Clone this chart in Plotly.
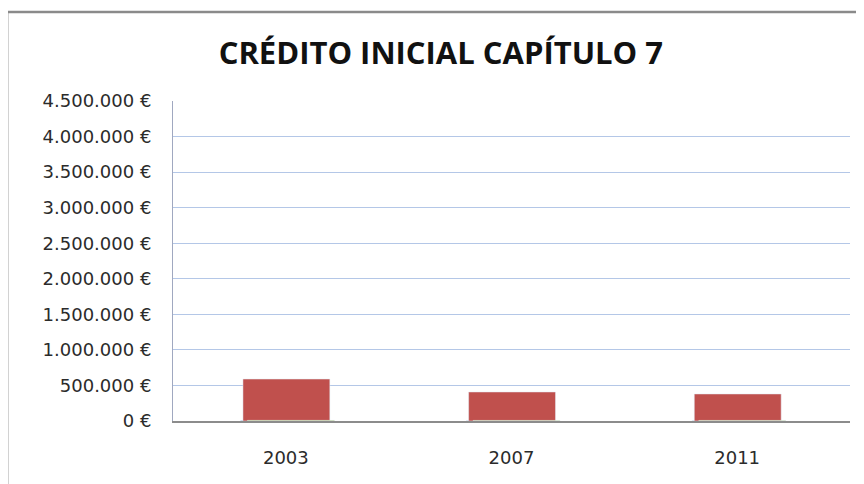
import plotly.graph_objects as go

years = ["2003", "2007", "2011"]
credito_azul = [6000, 5000, 5000]
credito_rojo = [590000, 408000, 380000]
credito_verde = [9000, 8000, 8000]

y_ticks = [0, 500000, 1000000, 1500000, 2000000, 2500000, 3000000, 3500000, 4000000, 4500000]
y_labels = ["0 €", "500.000 €", "1.000.000 €", "1.500.000 €", "2.000.000 €",
            "2.500.000 €", "3.000.000 €", "3.500.000 €", "4.000.000 €", "4.500.000 €"]

fig = go.Figure()
fig.add_trace(go.Bar(x=years, y=credito_azul, marker_color="#4f81bd",
                     width=0.38, offset=-0.2, name="azul"))
fig.add_trace(go.Bar(x=years, y=credito_rojo, marker_color="#c0504d",
                     width=0.385, offset=-0.19, name="rojo"))
fig.add_trace(go.Bar(x=years, y=credito_verde, marker_color="#9bbb59",
                     width=0.385, offset=-0.17, name="verde"))

fig.update_layout(
    width=864, height=484,
    barmode="overlay",
    showlegend=False,
    paper_bgcolor="white",
    plot_bgcolor="white",
    margin=dict(l=165, r=22, t=93, b=71),
    font=dict(family="DejaVu Sans", color="#2b2b2b", size=17),
    title=dict(text="<b>CRÉDITO INICIAL CAPÍTULO 7</b>", x=0.501, xanchor="center",
               xref="container", y=0.906, yanchor="middle",
               font=dict(family="Open Sans", size=31, color="#111111")),
    xaxis=dict(showline=True, linecolor="#8c8c8c", linewidth=1.5,
               ticks="", tickfont=dict(size=18), ticklabelstandoff=20),
    yaxis=dict(range=[0, 4500000], tickvals=y_ticks, ticktext=y_labels,
               showgrid=True, gridcolor="#b4c7e7", gridwidth=1,
               showline=True, linecolor="#a0a8c0", linewidth=1,
               zeroline=False, ticks="", tickfont=dict(size=18),
               ticklabelstandoff=17),
)

fig.add_shape(type="rect", xref="paper", yref="paper",
              x0=-0.245, x1=1.2, y0=-0.5, y1=1.278,
              line=dict(color="#8a8a8a", width=2.5), layer="below")

fig.write_html("out.html")
